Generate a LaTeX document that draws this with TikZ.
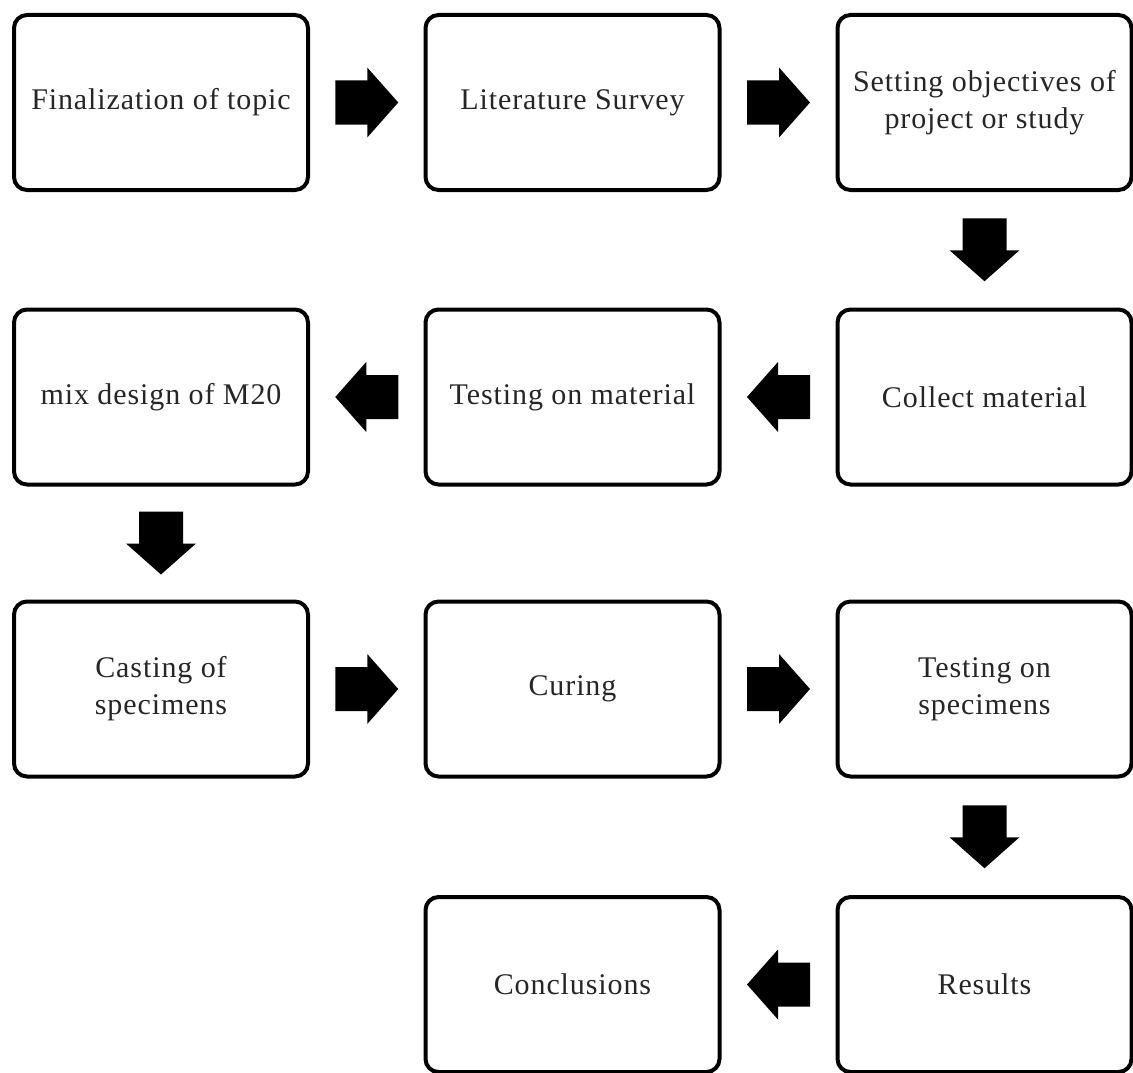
\documentclass[tikz,border=0pt]{standalone}
\usepackage{fontspec}
\setmainfont{Liberation Serif}[LetterSpace=3]
\usetikzlibrary{calc}
\begin{document}
\begin{tikzpicture}[x=1pt,y=-1pt,
  stage/.style={draw=black, line width=4pt, rounded corners=13pt,
    minimum width=294pt, minimum height=175pt, align=center,
    font=\fontsize{30}{37}\selectfont, text=black!85, inner sep=0pt},
  blockarrow/.pic={\fill[black] (-31.5,-22) -- (0.5,-22) -- (0.5,-35) --
    (31.5,0) -- (0.5,35) -- (0.5,22) -- (-31.5,22) -- cycle;}]
\useasboundingbox (0,0) rectangle (1133,1073);

% row 1
\node[stage] (topic)  at (161,102.5)   {Finalization of topic};
\node[stage] (survey) at (572.5,102.5) {Literature Survey};
\node[stage] (aims)   at (984.5,102.5) {Setting objectives of\\project or study};
% row 2
\node[stage] (mix)     at (161,397)   {mix design of M20};
\node[stage] (testmat) at (572.5,397) {Testing on material};
\node[stage] (collect) at (984.5,397) {Collect material};
% row 3
\node[stage] (cast)    at (161,689)   {Casting of\\specimens};
\node[stage] (curing)  at (572.5,689) {Curing};
\node[stage] (testspc) at (984.5,689) {Testing on\\specimens};
% row 4
\node[stage] (concl)   at (572.5,984.5) {Conclusions};
\node[stage] (results) at (984.5,984.5) {Results};

% block arrows between the stages
\pic at ($(topic.east)!0.5!(survey.west)$) {blockarrow};
\pic at ($(survey.east)!0.5!(aims.west)$) {blockarrow};
\pic[rotate=-90] at ($(aims.south)!0.5!(collect.north)$) {blockarrow};
\pic[rotate=180] at ($(collect.west)!0.5!(testmat.east)$) {blockarrow};
\pic[rotate=180] at ($(testmat.west)!0.5!(mix.east)$) {blockarrow};
\pic[rotate=-90] at ($(mix.south)!0.5!(cast.north)$) {blockarrow};
\pic at ($(cast.east)!0.5!(curing.west)$) {blockarrow};
\pic at ($(curing.east)!0.5!(testspc.west)$) {blockarrow};
\pic[rotate=-90] at ($(testspc.south)!0.5!(results.north)$) {blockarrow};
\pic[rotate=180] at ($(results.west)!0.5!(concl.east)$) {blockarrow};
\end{tikzpicture}
\end{document}
